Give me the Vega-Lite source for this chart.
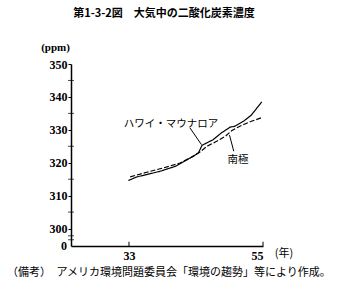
{
  "$schema": "https://vega.github.io/schema/vega-lite/v6.json",
  "width": 192,
  "height": 182,
  "autosize": "none",
  "padding": {"left": 71, "top": 64, "right": 77, "bottom": 50},
  "background": "white",
  "config": {"view": {"stroke": null}},
  "title": {
    "text": "第1-3-2図　大気中の二酸化炭素濃度",
    "font": "Noto Sans CJK JP",
    "fontSize": 11,
    "fontWeight": "bold",
    "color": "black",
    "anchor": "middle",
    "dx": -3,
    "offset": 22
  },
  "datasets": {
    "co2": [
      {"station": "ハワイ・マウナロア", "year": 32.9, "ppm": 314.6},
      {"station": "ハワイ・マウナロア", "year": 34.3, "ppm": 315.7},
      {"station": "ハワイ・マウナロア", "year": 35.9, "ppm": 316.4},
      {"station": "ハワイ・マウナロア", "year": 38.1, "ppm": 317.4},
      {"station": "ハワイ・マウナロア", "year": 40.6, "ppm": 318.9},
      {"station": "ハワイ・マウナロア", "year": 43.1, "ppm": 321.5},
      {"station": "ハワイ・マウナロア", "year": 44.4, "ppm": 323.0},
      {"station": "ハワイ・マウナロア", "year": 45.0, "ppm": 325.3},
      {"station": "ハワイ・マウナロア", "year": 46.8, "ppm": 327.0},
      {"station": "ハワイ・マウナロア", "year": 48.2, "ppm": 329.1},
      {"station": "ハワイ・マウナロア", "year": 49.6, "ppm": 330.8},
      {"station": "ハワイ・マウナロア", "year": 50.4, "ppm": 331.1},
      {"station": "ハワイ・マウナロア", "year": 51.8, "ppm": 332.6},
      {"station": "ハワイ・マウナロア", "year": 53.1, "ppm": 334.5},
      {"station": "ハワイ・マウナロア", "year": 54.8, "ppm": 338.5},
      {"station": "南極", "year": 33.2, "ppm": 315.7},
      {"station": "南極", "year": 35.9, "ppm": 317.1},
      {"station": "南極", "year": 38.6, "ppm": 318.4},
      {"station": "南極", "year": 41.4, "ppm": 319.9},
      {"station": "南極", "year": 43.6, "ppm": 322.0},
      {"station": "南極", "year": 44.7, "ppm": 323.3},
      {"station": "南極", "year": 45.8, "ppm": 325.0},
      {"station": "南極", "year": 47.4, "ppm": 326.5},
      {"station": "南極", "year": 48.8, "ppm": 328.0},
      {"station": "南極", "year": 49.9, "ppm": 329.8},
      {"station": "南極", "year": 51.2, "ppm": 331.1},
      {"station": "南極", "year": 53.1, "ppm": 332.6},
      {"station": "南極", "year": 54.8, "ppm": 333.7}
    ],
    "labels": [
      {"text": "ハワイ・マウナロア", "year": 39.9, "ppm": 331.9},
      {"text": "南極", "year": 50.9, "ppm": 320.9}
    ],
    "pointers": [
      {"year": 43.0, "ppm": 330.6, "year2": 44.9, "ppm2": 325.5},
      {"year": 49.5, "ppm": 328.4, "year2": 50.2, "ppm2": 323.5}
    ],
    "xticks": [
      {"year": 33, "ppm": 294.7, "ppm2": 296.0},
      {"year": 55, "ppm": 294.7, "ppm2": 296.0}
    ],
    "minor": [
      {"year": 23.48, "ppm": 305},
      {"year": 23.48, "ppm": 315},
      {"year": 23.48, "ppm": 325},
      {"year": 23.48, "ppm": 335},
      {"year": 23.48, "ppm": 345},
      {"year": 23.48, "ppm": 297.8},
      {"year": 23.48, "ppm": 296.6}
    ],
    "zero": [
      {"text": "0", "year": 23.48, "ppm": 294.7}
    ],
    "notes": [
      {"text": "（備考）　アメリカ環境問題委員会「環境の趨勢」等により作成。", "year": 12.97, "ppm": 286.5}
    ],
    "unit": [
      {"text": "(年)", "year": 58.45, "ppm": 292.2}
    ]
  },
  "encoding": {
    "x": {
      "field": "year", "type": "quantitative",
      "scale": {"domain": [23.48, 55], "nice": false, "zero": false},
      "axis": {
        "values": [33, 55],
        "title": null,
        "grid": false,
        "domainColor": "black",
        "domainWidth": 1.5,
        "ticks": false,
        "labelFont": "Liberation Serif",
        "labelFontSize": 12,
        "labelFontWeight": "bold",
        "labelColor": "black",
        "labelPadding": 4,
        "labelOverlap": false
      }
    },
    "y": {
      "field": "ppm", "type": "quantitative",
      "scale": {"domain": [294.7, 350], "nice": false, "zero": false},
      "axis": {
        "values": [300, 310, 320, 330, 340, 350],
        "labelOverlap": false,
        "labelBound": false,
        "labelFlush": false,
        "title": "(ppm)",
        "titleAngle": 0,
        "titleX": -16,
        "titleY": -17,
        "titleAlign": "center",
        "titleBaseline": "middle",
        "titleFont": "Liberation Serif",
        "titleFontSize": 11,
        "titleFontWeight": "bold",
        "titleColor": "black",
        "grid": false,
        "domainColor": "black",
        "domainWidth": 1.5,
        "tickColor": "black",
        "tickSize": 3,
        "tickWidth": 1,
        "labelFont": "Liberation Serif",
        "labelFontSize": 12,
        "labelFontWeight": "bold",
        "labelColor": "black",
        "labelPadding": 1
      }
    }
  },
  "layer": [
    {
      "data": {"name": "co2"},
      "mark": {"type": "line", "color": "black", "strokeWidth": 1.2},
      "encoding": {
        "strokeDash": {
          "field": "station", "type": "nominal",
          "scale": {"domain": ["ハワイ・マウナロア", "南極"], "range": [[1, 0], [5, 2]]},
          "legend": null
        }
      }
    },
    {
      "data": {"name": "pointers"},
      "mark": {"type": "rule", "color": "black", "strokeWidth": 1},
      "encoding": {
        "x2": {"field": "year2"},
        "y2": {"field": "ppm2"}
      }
    },
    {
      "data": {"name": "xticks"},
      "mark": {"type": "rule", "color": "black", "strokeWidth": 1},
      "encoding": {
        "y2": {"field": "ppm2"}
      }
    },
    {
      "data": {"name": "minor"},
      "mark": {"type": "tick", "orient": "horizontal", "color": "black", "size": 6, "thickness": 1},
      "encoding": {}
    },
    {
      "data": {"name": "zero"},
      "mark": {"type": "text", "font": "Liberation Serif", "fontSize": 12, "fontWeight": "bold", "color": "black", "align": "right", "baseline": "middle", "dx": -4},
      "encoding": {"text": {"field": "text"}}
    },
    {
      "data": {"name": "labels"},
      "mark": {"type": "text", "font": "Noto Sans CJK JP", "fontSize": 10.5, "color": "black", "align": "center", "baseline": "middle"},
      "encoding": {"text": {"field": "text"}}
    },
    {
      "data": {"name": "notes"},
      "mark": {"type": "text", "font": "Noto Sans CJK JP", "fontSize": 11, "color": "black", "align": "left", "baseline": "middle"},
      "encoding": {"text": {"field": "text"}}
    },
    {
      "data": {"name": "unit"},
      "mark": {"type": "text", "font": "Noto Sans CJK JP", "fontSize": 11, "color": "black", "align": "center", "baseline": "middle"},
      "encoding": {"text": {"field": "text"}}
    }
  ]
}
